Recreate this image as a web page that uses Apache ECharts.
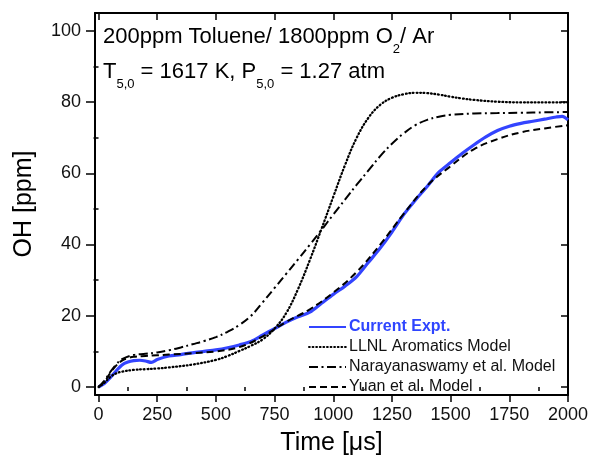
<!DOCTYPE html>
<html>
<head>
<meta charset="utf-8">
<script src="https://cdn.jsdelivr.net/npm/echarts@6/dist/echarts.min.js"></script>
<style>
html,body{margin:0;padding:0;background:#fff;}
#chart{width:592px;height:467px;}
</style>
</head>
<body>
<div id="chart"></div>
<script>
// ---- data ----
var xMajorTicks = [0, 250, 500, 750, 1000, 1250, 1500, 1750, 2000];
var xMinorTicks = [125, 375, 625, 875, 1125, 1375, 1625, 1875];
var yMajorTicks = [0, 20, 40, 60, 80, 100];
var yMinorTicks = [10, 30, 50, 70, 90];

var seriesNames = ['Current Expt.', 'LLNL Aromatics Model', 'Narayanaswamy et al. Model', 'Yuan et al. Model'];

var tExpt = [0, 25, 50, 75, 100, 125, 150, 175, 200, 225, 250, 300, 350, 400, 450, 500, 550, 600, 650, 700, 750, 800, 850, 900, 950, 1000, 1050, 1100, 1150, 1200, 1250, 1300, 1350, 1400, 1450, 1500, 1550, 1600, 1650, 1700, 1750, 1800, 1850, 1900, 1950, 1975, 2000];
var vExpt = [0, 1.0, 2.6, 4.5, 6.2, 7.0, 7.4, 7.5, 7.3, 6.9, 7.7, 8.7, 9.1, 9.6, 10.0, 10.4, 11.0, 11.8, 12.8, 14.6, 16.4, 18.2, 19.7, 21.0, 23.5, 26.0, 28.3, 31.0, 35.0, 39.0, 43.5, 48.4, 52.5, 56.3, 60.3, 63.0, 65.6, 68.0, 70.2, 72.0, 73.2, 74.0, 74.6, 75.2, 75.8, 76.0, 75.0];

var tLLNL = [0, 25, 50, 75, 100, 150, 200, 250, 300, 400, 500, 550, 600, 650, 700, 750, 800, 850, 900, 950, 1000, 1050, 1100, 1150, 1200, 1250, 1300, 1350, 1400, 1450, 1500, 1550, 1600, 1700, 1800, 1900, 2000];
var vLLNL = [0, 1.2, 2.8, 3.8, 4.3, 4.8, 5.0, 5.2, 5.5, 6.3, 7.6, 8.7, 10.1, 11.6, 13.4, 16.4, 20.8, 27.5, 35.6, 44.4, 53.4, 62.3, 70.0, 75.6, 79.2, 81.2, 82.2, 82.6, 82.5, 82.1, 81.5, 81.0, 80.6, 80.1, 79.9, 79.9, 79.9];

var tNara = [0, 25, 50, 75, 100, 150, 200, 250, 300, 350, 400, 450, 500, 550, 600, 650, 700, 750, 800, 850, 900, 950, 1000, 1050, 1100, 1150, 1200, 1250, 1300, 1350, 1400, 1450, 1500, 1600, 1700, 1800, 1900, 2000];
var vNara = [0, 1.8, 4.2, 6.3, 7.8, 9.0, 9.3, 9.7, 10.3, 11.1, 12.0, 12.9, 14.0, 15.5, 17.4, 20.0, 23.8, 27.8, 31.8, 35.8, 39.9, 44.1, 48.4, 52.6, 56.8, 60.8, 64.8, 68.3, 71.2, 73.5, 75.0, 75.9, 76.4, 76.8, 76.9, 77.0, 77.1, 77.2];

var tYuan = [0, 25, 50, 75, 100, 125, 150, 200, 250, 300, 400, 500, 600, 700, 800, 900, 1000, 1100, 1200, 1300, 1400, 1500, 1600, 1700, 1800, 1900, 2000];
var vYuan = [0, 1.5, 3.9, 6.0, 7.4, 8.1, 8.5, 8.7, 8.9, 9.1, 9.5, 10.0, 11.2, 14.2, 18.3, 21.8, 26.5, 32.3, 40.0, 48.6, 56.5, 62.0, 66.8, 69.6, 71.5, 72.6, 73.5];

function pairs(t, v) { return t.map(function (x, i) { return [x, v[i]]; }); }

var FONT = '"Liberation Sans", Arial, sans-serif';
var X_MIN = -15, X_MAX = 2000, Y_MIN = -2.25, Y_MAX = 105;

var chart = echarts.init(document.getElementById('chart'), null, {renderer: 'canvas'});

var lineBase = {type: 'line', showSymbol: false, symbol: 'none', xAxisIndex: 0, yAxisIndex: 0, animation: false};
var plainLabel = function (v) { return String(v); };

var option = {
  backgroundColor: '#fff',
  animation: false,
  grid: {left: 95, right: 24, top: 13, bottom: 72, containLabel: false},
  xAxis: [
    {
      type: 'value', position: 'bottom', min: X_MIN, max: X_MAX,
      name: 'Time [\u03bcs]', nameLocation: 'middle', nameGap: 36,
      nameTextStyle: {fontFamily: FONT, fontSize: 25, color: '#000'},
      axisLine: {show: true, onZero: false, lineStyle: {color: '#000', width: 2}},
      axisTick: {show: true, inside: false, length: 7, customValues: xMajorTicks, lineStyle: {color: '#000', width: 1.5}},
      axisLabel: {show: true, customValues: xMajorTicks, formatter: plainLabel, margin: 11, fontFamily: FONT, fontSize: 18, color: '#111'},
      splitLine: {show: false}
    },
    {
      type: 'value', position: 'bottom', min: X_MIN, max: X_MAX,
      axisLine: {show: false},
      axisTick: {show: true, inside: false, length: 4, customValues: xMinorTicks, lineStyle: {color: '#000', width: 1.5}},
      axisLabel: {show: false},
      splitLine: {show: false}
    },
    {
      type: 'value', position: 'top', min: X_MIN, max: X_MAX,
      axisLine: {show: true, onZero: false, lineStyle: {color: '#000', width: 2}},
      axisTick: {show: true, inside: true, length: 7, customValues: xMajorTicks, lineStyle: {color: '#000', width: 1.5}},
      axisLabel: {show: false},
      splitLine: {show: false}
    }
  ],
  yAxis: [
    {
      type: 'value', position: 'left', min: Y_MIN, max: Y_MAX,
      name: 'OH [ppm]', nameLocation: 'middle', nameGap: 58, nameRotate: 90,
      nameTextStyle: {fontFamily: FONT, fontSize: 25, color: '#000'},
      axisLine: {show: true, onZero: false, lineStyle: {color: '#000', width: 2}},
      axisTick: {show: true, inside: false, length: 9, customValues: yMajorTicks, lineStyle: {color: '#000', width: 1.5}},
      axisLabel: {show: true, customValues: yMajorTicks, formatter: plainLabel, margin: 14, fontFamily: FONT, fontSize: 18, color: '#111'},
      splitLine: {show: false}
    },
    {
      type: 'value', position: 'left', min: Y_MIN, max: Y_MAX,
      axisLine: {show: false},
      axisTick: {show: true, inside: false, length: 5, customValues: yMinorTicks, lineStyle: {color: '#000', width: 1.5}},
      axisLabel: {show: false},
      splitLine: {show: false}
    },
    {
      type: 'value', position: 'right', min: Y_MIN, max: Y_MAX,
      axisLine: {show: true, onZero: false, lineStyle: {color: '#000', width: 2}},
      axisTick: {show: true, inside: true, length: 7, customValues: yMajorTicks, lineStyle: {color: '#000', width: 1.5}},
      axisLabel: {show: false},
      splitLine: {show: false}
    }
  ],
  legend: {
    orient: 'vertical', left: 308, top: 319, padding: 0,
    itemWidth: 37, itemHeight: 14, itemGap: 4,
    itemStyle: {opacity: 0},
    textStyle: {fontFamily: FONT, fontSize: 16, color: '#111', padding: [0, 0, 0, -2]},
    data: [
      {name: seriesNames[0], textStyle: {color: '#2f45ff', fontWeight: 'bold'}},
      {name: seriesNames[1]},
      {name: seriesNames[2]},
      {name: seriesNames[3]}
    ]
  },
  graphic: [
    {
      type: 'text', left: 103, top: 26, z: 100,
      style: {
        text: '{n|200ppm Toluene/ 1800ppm O}{s|2}{n|/ Ar}',
        rich: {
          n: {fontFamily: FONT, fontSize: 22, color: '#111', lineHeight: 26, verticalAlign: 'top'},
          s: {fontFamily: FONT, fontSize: 13, color: '#111', lineHeight: 14, padding: [17, 0, 0, 0], verticalAlign: 'top'}
        }
      }
    },
    {
      type: 'text', left: 103, top: 61, z: 100,
      style: {
        text: '{n|T}{s|5,0}{n| = 1617 K, P}{s|5,0}{n| = 1.27 atm}',
        rich: {
          n: {fontFamily: FONT, fontSize: 22, color: '#111', lineHeight: 26, verticalAlign: 'top'},
          s: {fontFamily: FONT, fontSize: 13, color: '#111', lineHeight: 14, padding: [17, 0, 0, 0], verticalAlign: 'top'}
        }
      }
    }
  ],
  series: [
    Object.assign({}, lineBase, {
      name: seriesNames[0], data: pairs(tExpt, vExpt), smooth: 0.3, z: 2,
      itemStyle: {color: '#3344ff'},
      lineStyle: {color: '#3344ff', width: 3.2}
    }),
    Object.assign({}, lineBase, {
      name: seriesNames[1], data: pairs(tLLNL, vLLNL), smooth: 0.4, z: 3,
      itemStyle: {color: '#000'},
      lineStyle: {color: '#000', width: 2.3, type: [0.8, 2.8], cap: 'round'}
    }),
    Object.assign({}, lineBase, {
      name: seriesNames[2], data: pairs(tNara, vNara), smooth: 0.4, z: 3,
      itemStyle: {color: '#000'},
      lineStyle: {color: '#000', width: 2, type: [9, 3.5, 2, 3.5]}
    }),
    Object.assign({}, lineBase, {
      name: seriesNames[3], data: pairs(tYuan, vYuan), smooth: 0.4, z: 4,
      itemStyle: {color: '#000'},
      lineStyle: {color: '#000', width: 2, type: [7, 4]}
    })
  ]
};

chart.setOption(option);
</script>
</body>
</html>
